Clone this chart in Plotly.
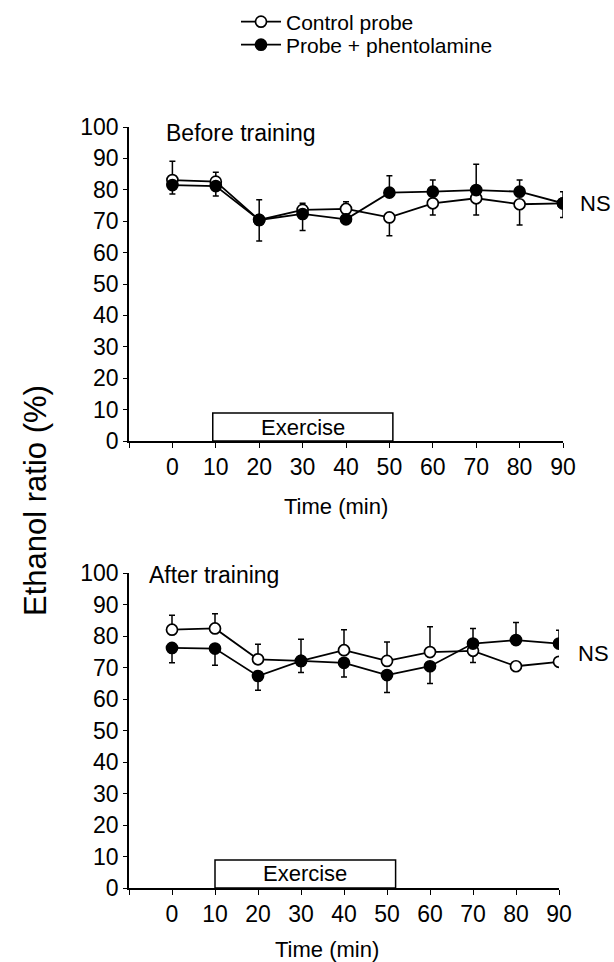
import plotly.graph_objects as go

# ---- data ----
time_min = [0, 10, 20, 30, 40, 50, 60, 70, 80, 90]
x_ticks = [-10, 0, 10, 20, 30, 40, 50, 60, 70, 80, 90]
x_ticktext = ["", "0", "10", "20", "30", "40", "50", "60", "70", "80", "90"]

# Before training
before_control = [83.1, 82.6, 70.4, 73.6, 73.9, 71.2, 75.7, 77.3, 75.4, 75.7]
before_control_up = [6.0, 3.0, 6.4, 2.1, 2.3, 0, 0, 0, 0, 0]
before_control_down = [0, 0, 0, 0, 0, 5.8, 3.7, 5.3, 6.6, 4.5]
before_phent = [81.5, 81.2, 70.4, 72.3, 70.6, 79.1, 79.4, 79.9, 79.4, 75.7]
before_phent_up = [0, 0, 0, 0, 0, 5.4, 3.7, 8.2, 3.7, 3.7]
before_phent_down = [2.8, 3.2, 6.7, 5.3, 1.0, 0, 0, 0, 0, 0]

# After training
after_control = [82.0, 82.4, 72.6, 72.1, 75.5, 72.1, 74.9, 75.3, 70.4, 71.8]
after_control_up = [4.6, 4.7, 4.8, 6.9, 6.5, 6.0, 8.0, 0, 0, 0]
after_control_down = [0, 0, 0, 0, 0, 0, 0, 3.7, 0, 0]
after_phent = [76.2, 76.0, 67.3, 72.1, 71.5, 67.6, 70.4, 77.6, 78.7, 77.6]
after_phent_up = [0, 0, 0, 0, 0, 0, 0, 4.8, 5.6, 4.2]
after_phent_down = [4.7, 5.3, 4.5, 3.7, 4.5, 5.5, 5.5, 0, 0, 0]

exercise_before = [9.3, 50.8]
exercise_after = [10.0, 52.0]
exercise_height = 8.9

FONT = "Liberation Sans, Arial, sans-serif"
W, H = 614, 962

fig = go.Figure()


def add_pair(xa, ya, ctrl, cu, cd, ph, pu, pd, show):
    fig.add_trace(go.Scatter(
        x=time_min, y=ctrl, mode="lines+markers", name="Control probe",
        xaxis=xa, yaxis=ya, showlegend=show, legend="legend",
        line=dict(color="black", width=1.8),
        marker=dict(symbol="circle", size=11, color="white",
                    line=dict(color="black", width=1.7)),
        error_y=dict(type="data", symmetric=False, array=cu, arrayminus=cd,
                     color="black", thickness=1.5, width=3),
    ))
    fig.add_trace(go.Scatter(
        x=time_min, y=ph, mode="lines+markers", name="Probe + phentolamine",
        xaxis=xa, yaxis=ya, showlegend=show, legend="legend2",
        line=dict(color="black", width=1.8),
        marker=dict(symbol="circle", size=11, color="black",
                    line=dict(color="black", width=1.7)),
        error_y=dict(type="data", symmetric=False, array=pu, arrayminus=pd,
                     color="black", thickness=1.5, width=3),
    ))


add_pair("x", "y", before_control, before_control_up, before_control_down,
         before_phent, before_phent_up, before_phent_down, True)
add_pair("x2", "y2", after_control, after_control_up, after_control_down,
         after_phent, after_phent_up, after_phent_down, False)

xcommon = dict(range=[-10, 90], tickvals=x_ticks, ticktext=x_ticktext,
               ticks="outside", ticklen=5, tickwidth=1.3, tickcolor="black",
               showline=True, linecolor="black", linewidth=1.5,
               showgrid=False, zeroline=False, automargin=False,
               tickfont=dict(family=FONT, size=23, color="black"))
ycommon = dict(range=[0, 100], tickvals=list(range(0, 101, 10)),
               ticks="outside", ticklen=4, tickwidth=1.3, tickcolor="black",
               showline=True, linecolor="black", linewidth=1.5,
               showgrid=False, zeroline=False, automargin=False,
               tickfont=dict(family=FONT, size=23, color="black"))

legend_common = dict(xanchor="left", yanchor="middle",
                     font=dict(family=FONT, size=21, color="black"),
                     bgcolor="rgba(0,0,0,0)", itemwidth=40)

fig.update_layout(
    width=W, height=H,
    margin=dict(l=0, r=0, t=0, b=0),
    paper_bgcolor="white", plot_bgcolor="white",
    font=dict(family=FONT, size=23, color="black"),
    xaxis=dict(domain=[129 / W, 563 / W], anchor="y", **xcommon),
    yaxis=dict(domain=[1 - 441 / H, 1 - 127 / H], anchor="x", **ycommon),
    xaxis2=dict(domain=[129 / W, 559 / W], anchor="y2", **xcommon),
    yaxis2=dict(domain=[1 - 888 / H, 1 - 573 / H], anchor="x2", **ycommon),
    legend=dict(x=236 / W, y=1 - 22 / H, **legend_common),
    legend2=dict(x=236 / W, y=1 - 45 / H, **legend_common),
)

# Exercise boxes
for xr, yr, ex in (("x", "y", exercise_before), ("x2", "y2", exercise_after)):
    fig.add_shape(type="rect", xref=xr, yref=yr, x0=ex[0], x1=ex[1],
                  y0=0, y1=exercise_height, line=dict(color="black", width=1.5),
                  fillcolor="white", layer="above")
    fig.add_annotation(xref=xr, yref=yr, x=(ex[0] + ex[1]) / 2,
                       y=exercise_height / 2, text="Exercise", showarrow=False,
                       font=dict(family=FONT, size=22, color="black"))

# Panel labels
fig.add_annotation(xref="x", yref="y", x=-2, y=98, text="Before training",
                   xanchor="left", yanchor="middle", showarrow=False,
                   font=dict(family=FONT, size=23, color="black"))
fig.add_annotation(xref="x2", yref="y2", x=-5.8, y=99.4, text="After training",
                   xanchor="left", yanchor="middle", showarrow=False,
                   font=dict(family=FONT, size=23, color="black"))

# NS labels
fig.add_annotation(xref="x", yref="y", x=90, y=75.5, text="NS", xanchor="left",
                   xshift=15, showarrow=False,
                   font=dict(family=FONT, size=22, color="black"))
fig.add_annotation(xref="x2", yref="y2", x=90, y=74.5, text="NS", xanchor="left",
                   xshift=17, showarrow=False,
                   font=dict(family=FONT, size=22, color="black"))

# Axis titles
fig.add_annotation(xref="x", yref="paper", x=37.7, y=1 - 507 / H, text="Time (min)",
                   showarrow=False, yanchor="middle",
                   font=dict(family=FONT, size=22, color="black"))
fig.add_annotation(xref="x2", yref="paper", x=36, y=1 - 949 / H, text="Time (min)",
                   showarrow=False, yanchor="middle",
                   font=dict(family=FONT, size=22, color="black"))
fig.add_annotation(xref="paper", yref="paper", x=35 / W, y=1 - 501 / H,
                   text="Ethanol ratio (%)", textangle=-90, showarrow=False,
                   xanchor="center", yanchor="middle",
                   font=dict(family=FONT, size=31, color="black"))

fig.write_html("out.html")
